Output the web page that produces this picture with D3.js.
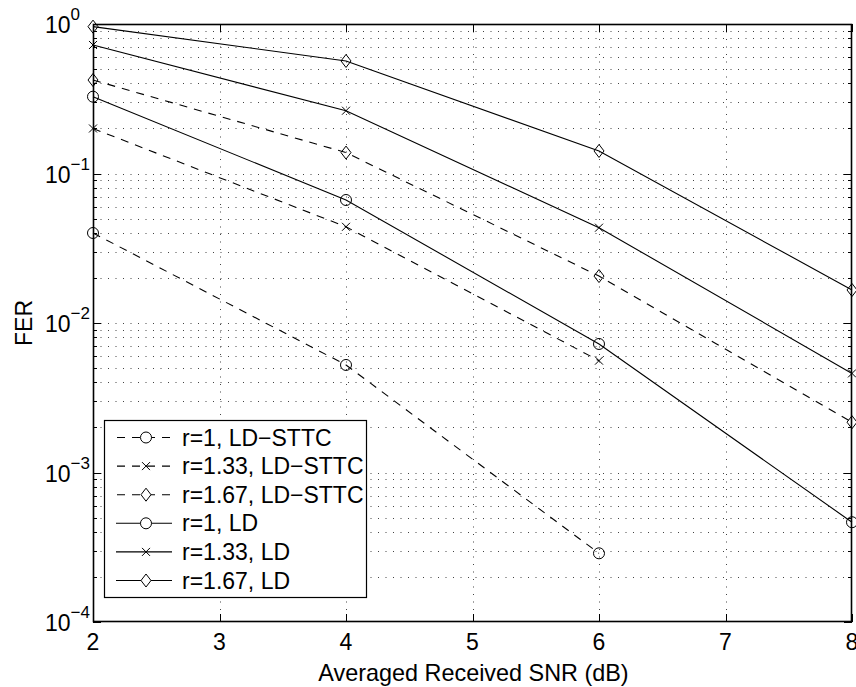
<!DOCTYPE html>
<html>
<head>
<meta charset="utf-8">
<script src="https://cdn.jsdelivr.net/npm/d3@7"></script>
<style>
  body { margin: 0; background: #fff; }
  svg { display: block; font-family: "Liberation Sans", Arial, Helvetica, sans-serif; }
</style>
</head>
<body>
<div id="chart"></div>
<script>
// x values (dB)
const snr = [2, 4, 6, 8];

// FER values
const sttcR1   = [0.04, 0.00524, 0.000288];
const sttcR133 = [0.2, 0.044, 0.0056];
const sttcR167 = [0.422, 0.138, 0.0206, 0.00217];
const ldR1     = [0.3265, 0.0665, 0.00724, 0.000465];
const ldR133   = [0.724, 0.263, 0.0434, 0.0046];
const ldR167   = [0.96, 0.566, 0.1415, 0.01663];

const seriesNames   = ["r=1, LD\u2212STTC", "r=1.33, LD\u2212STTC", "r=1.67, LD\u2212STTC", "r=1, LD", "r=1.33, LD", "r=1.67, LD"];
const seriesValues  = [sttcR1, sttcR133, sttcR167, ldR1, ldR133, ldR167];
const seriesMarkers = ["circle", "cross", "diamond", "circle", "cross", "diamond"];
const seriesDashed  = [true, true, true, false, false, false];

const xTicks = [2, 3, 4, 5, 6, 7, 8];
const yExponents = [0, -1, -2, -3, -4];

const width = 856, height = 687;
const margin = { top: 24, right: 4, bottom: 65, left: 93 };
const innerW = width - margin.left - margin.right;
const innerH = height - margin.top - margin.bottom;

const x = d3.scaleLinear().domain([2, 8]).range([0, innerW]);
const y = d3.scaleLog().domain([1e-4, 1]).range([innerH, 0]);

const svg = d3.select("#chart").append("svg")
  .attr("width", width)
  .attr("height", height);

const g = svg.append("g")
  .attr("transform", `translate(${margin.left},${margin.top})`);

// minor + major y positions for the log grid
let yGrid = [];
for (let e = -4; e < 0; e++) {
  for (let m = 1; m < 10; m++) yGrid.push(m * Math.pow(10, e));
}
yGrid.push(1);

// Grid (dotted)
const grid = g.append("g").attr("class", "grid")
  .attr("stroke", "#444").attr("stroke-width", 1)
  .attr("stroke-dasharray", "1,6.5");

grid.selectAll("line.gy")
  .data(yGrid.filter(v => v > 1e-4 && v < 1))
  .enter().append("line")
  .attr("class", "gy")
  .attr("x1", 0).attr("x2", innerW)
  .attr("y1", d => Math.round(y(d)) + 0.5)
  .attr("y2", d => Math.round(y(d)) + 0.5);

grid.selectAll("line.gx")
  .data(xTicks.slice(1, -1))
  .enter().append("line")
  .attr("class", "gx")
  .attr("y1", 0).attr("y2", innerH)
  .attr("x1", d => Math.round(x(d)) + 0.5)
  .attr("x2", d => Math.round(x(d)) + 0.5);

// Ticks on all sides
const ticks = g.append("g").attr("stroke", "#000").attr("stroke-width", 1);
xTicks.forEach(t => {
  const px = Math.round(x(t)) + 0.5;
  ticks.append("line").attr("x1", px).attr("x2", px).attr("y1", innerH).attr("y2", innerH - 8);
  ticks.append("line").attr("x1", px).attr("x2", px).attr("y1", 0).attr("y2", 8);
});
yGrid.forEach(v => {
  const py = Math.round(y(v)) + 0.5;
  const major = Math.abs(Math.log10(v) - Math.round(Math.log10(v))) < 1e-9;
  const len = major ? 8 : 4;
  ticks.append("line").attr("x1", 0).attr("x2", len).attr("y1", py).attr("y2", py);
  ticks.append("line").attr("x1", innerW).attr("x2", innerW - len).attr("y1", py).attr("y2", py);
});

// Series lines
const line = d3.line()
  .x((d, i) => x(snr[i]))
  .y(d => y(d));

const symbolPath = (type) => {
  if (type === "circle") return d3.symbol().type(d3.symbolCircle).size(95)();
  if (type === "diamond") return "M0,-6.5L5,0L0,6.5L-5,0Z";
  return "M-4,-4L4,4M-4,4L4,-4";
};

seriesValues.forEach((vals, si) => {
  const sg = g.append("g");
  sg.append("path")
    .datum(vals)
    .attr("d", line)
    .attr("fill", "none")
    .attr("stroke", "#000")
    .attr("stroke-width", 1.1)
    .attr("stroke-dasharray", seriesDashed[si] ? "8,7" : null);
  sg.selectAll("path.mk")
    .data(vals)
    .enter().append("path")
    .attr("class", "mk")
    .attr("transform", (d, i) => `translate(${x(snr[i])},${y(d)})`)
    .attr("d", symbolPath(seriesMarkers[si]))
    .attr("fill", "none")
    .attr("stroke", "#000")
    .attr("stroke-width", 1);
});

// Axes box
g.append("rect")
  .attr("x", 0.5).attr("y", 0.5)
  .attr("width", innerW - 1).attr("height", innerH - 1)
  .attr("fill", "none").attr("stroke", "#000").attr("stroke-width", 1.6);

// X tick labels
g.selectAll("text.xt")
  .data(xTicks)
  .enter().append("text")
  .attr("class", "xt")
  .attr("x", d => x(d))
  .attr("y", innerH + 28)
  .attr("text-anchor", "middle")
  .attr("font-size", 23)
  .text(d => d);

// Y tick labels 10^n
const yt = g.selectAll("text.yt")
  .data(yExponents)
  .enter().append("text")
  .attr("class", "yt")
  .attr("x", -48)
  .attr("y", d => y(Math.pow(10, d)) + 9)
  .attr("text-anchor", "start")
  .attr("font-size", 23);
yt.append("tspan").text("10");
yt.append("tspan")
  .attr("dy", -13)
  .attr("font-size", 17)
  .text(d => d === 0 ? "0" : "\u2212" + Math.abs(d));

// Axis labels
svg.append("text")
  .attr("x", margin.left + innerW / 2 + 1)
  .attr("y", 681)
  .attr("text-anchor", "middle")
  .attr("font-size", 23.4)
  .text("Averaged Received SNR (dB)");

svg.append("text")
  .attr("transform", `translate(32,${margin.top + innerH / 2}) rotate(-90)`)
  .attr("text-anchor", "middle")
  .attr("font-size", 23)
  .text("FER");

// Legend
const legend = svg.append("g").attr("transform", "translate(104,420)");
const legW = 262, legH = 177, rowH = 28.6, rowY0 = 17.5;
legend.append("rect")
  .attr("x", 0.5).attr("y", 0.5)
  .attr("width", legW).attr("height", legH)
  .attr("fill", "#fff").attr("stroke", "#000").attr("stroke-width", 1.2);

seriesNames.forEach((name, si) => {
  const ry = rowY0 + si * rowH;
  const row = legend.append("g").attr("transform", `translate(0,${ry})`);
  row.append("line")
    .attr("x1", 12).attr("x2", 68)
    .attr("y1", 0).attr("y2", 0)
    .attr("stroke", "#000").attr("stroke-width", 1.1)
    .attr("stroke-dasharray", seriesDashed[si] ? "8,7" : null)
    .attr("stroke-dashoffset", seriesDashed[si] ? -1 : null);
  row.append("path")
    .attr("transform", "translate(42,0)")
    .attr("d", symbolPath(seriesMarkers[si]))
    .attr("fill", "#fff").attr("stroke", "#000").attr("stroke-width", 1);
  row.append("text")
    .attr("x", 78).attr("y", 8)
    .attr("font-size", 23)
    .text(name);
});
</script>
</body>
</html>
